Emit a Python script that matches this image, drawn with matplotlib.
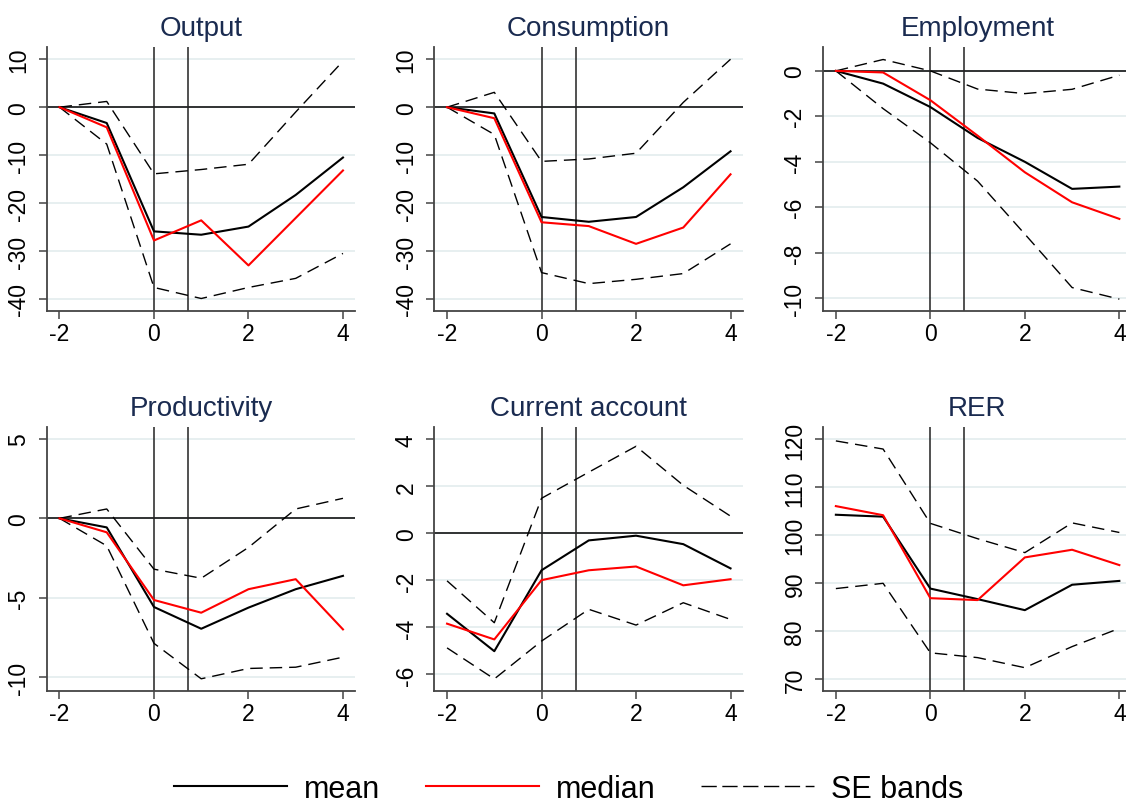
import numpy as np
import matplotlib.pyplot as plt
from matplotlib.lines import Line2D

plt.rcParams['font.family'] = ['Liberation Sans', 'DejaVu Sans']
plt.rcParams['axes.unicode_minus'] = False

# horizon (years relative to the event)
horizon = [-2, -1, 0, 1, 2, 3, 4]

# Output
out_mean = [0, -3.3, -25.9, -26.6, -24.9, -18.3, -10.5]
out_median = [0, -4.2, -27.8, -23.6, -33.0, -23.1, -13.2]
out_upper = [0, 1.2, -13.9, -13.0, -11.9, -1.0, 9.6]
out_lower = [0, -7.7, -37.6, -39.9, -37.6, -35.7, -30.5]

# Consumption
con_mean = [0, -1.3, -22.9, -23.9, -22.9, -16.7, -9.2]
con_median = [0, -2.3, -24.0, -24.8, -28.5, -25.1, -14.0]
con_upper = [0, 3.1, -11.3, -10.8, -9.6, 1.0, 10.0]
con_lower = [0, -5.7, -34.5, -36.8, -35.9, -34.7, -28.5]

# Employment
emp_mean = [0, -0.56, -1.59, -2.95, -4.0, -5.19, -5.09]
emp_median = [0, -0.07, -1.29, -2.85, -4.46, -5.78, -6.51]
emp_upper = [0, 0.5, 0.0, -0.8, -1.0, -0.81, -0.19]
emp_lower = [0, -1.66, -3.16, -4.85, -7.18, -9.53, -10.04]

# Productivity
prd_mean = [0, -0.57, -5.58, -6.95, -5.62, -4.46, -3.62]
prd_median = [0, -0.88, -5.14, -5.94, -4.46, -3.83, -6.99]
prd_upper = [0, 0.59, -3.2, -3.77, -1.83, 0.59, 1.26]
prd_lower = [0, -1.73, -7.87, -10.1, -9.45, -9.37, -8.74]

# Current account
ca_mean = [-3.42, -5.01, -1.57, -0.30, -0.10, -0.46, -1.49]
ca_median = [-3.84, -4.51, -1.99, -1.57, -1.41, -2.21, -1.95]
ca_upper = [-2.02, -3.80, 1.49, 2.6, 3.70, 2.04, 0.73]
ca_lower = [-4.87, -6.19, -4.58, -3.23, -3.9, -2.95, -3.66]

# RER
rer_mean = [104.3, 103.9, 88.9, 86.7, 84.4, 89.7, 90.5]
rer_median = [106.1, 104.2, 86.9, 86.5, 95.4, 97.0, 93.8]
rer_upper = [119.7, 118.0, 102.5, 99.3, 96.4, 102.6, 100.6]
rer_lower = [88.9, 90.0, 75.5, 74.5, 72.4, 76.8, 80.6]

titles = ['Output', 'Consumption', 'Employment', 'Productivity', 'Current account', 'RER']
yticks = [[-40, -30, -20, -10, 0, 10], [-40, -30, -20, -10, 0, 10],
          [-10, -8, -6, -4, -2, 0], [-10, -5, 0, 5],
          [-6, -4, -2, 0, 2, 4], [70, 80, 90, 100, 110, 120]]
ylims = [(-42.5, 12.6), (-42.5, 12.6), (-10.56, 1.06), (-10.88, 5.75),
         (-6.71, 4.52), (67.5, 122.6)]
series = [(out_mean, out_median, out_upper, out_lower),
          (con_mean, con_median, con_upper, con_lower),
          (emp_mean, emp_median, emp_upper, emp_lower),
          (prd_mean, prd_median, prd_upper, prd_lower),
          (ca_mean, ca_median, ca_upper, ca_lower),
          (rer_mean, rer_median, rer_upper, rer_lower)]
zero_line = [True, True, True, True, True, False]
event_lines = [0, 0.72]

fig = plt.figure(figsize=(11.26, 8.03), dpi=100)

lefts = [0.0415, 0.3857, 0.731]
bottoms = [0.6115, 0.138]
w, h = 0.274, 0.329

for i in range(6):
	ax = fig.add_axes([lefts[i % 3], bottoms[i // 3], w, h])
	mean, median, upper, lower = series[i]

	# light grid at the y ticks
	for yt in yticks[i]:
		ax.axhline(yt, color='#e3ecee', lw=1.2, zorder=0)
	if zero_line[i]:
		ax.axhline(0, color='black', lw=1.1, zorder=1)
	for xv in event_lines:
		ax.axvline(xv, color='#222222', lw=1.1, zorder=1)

	ax.plot(horizon, upper, color='black', lw=1.0, dashes=(9, 5), zorder=2)
	ax.plot(horizon, lower, color='black', lw=1.0, dashes=(9, 5), zorder=2)
	ax.plot(horizon, mean, color='black', lw=1.5, zorder=3)
	ax.plot(horizon, median, color='red', lw=1.5, zorder=3)

	ax.set_xlim(-2.27, 4.26)
	ax.set_ylim(*ylims[i])
	ax.set_xticks([-2, 0, 2, 4])
	ax.set_yticks(yticks[i])
	ax.set_title(titles[i], fontsize=20, color='#1a2b50', pad=8.5)

	for s in ['top', 'right']:
		ax.spines[s].set_visible(False)
	for s in ['left', 'bottom']:
		ax.spines[s].set_color('#444444')
		ax.spines[s].set_linewidth(1.3)
	ax.tick_params(axis='both', direction='out', length=6, width=1.1,
				   color='#444444', labelsize=16.5)
	ax.tick_params(axis='x', pad=2)
	ax.tick_params(axis='y', pad=6)
	for lab in ax.get_yticklabels():
		lab.set_rotation(90)
		lab.set_va('center')
		lab.set_ha('right')

handles = [Line2D([], [], color='black', lw=1.5),
		   Line2D([], [], color='red', lw=1.5),
		   Line2D([], [], color='black', lw=1.0, dashes=(11, 4))]
fig.legend(handles, ['mean', 'median', 'SE bands'], loc='center',
		   bbox_to_anchor=(0.505, 0.016), ncol=3, frameon=False,
		   fontsize=22, handlelength=3.7, handletextpad=0.55,
		   columnspacing=1.5)

plt.savefig('out.png', dpi=100)
